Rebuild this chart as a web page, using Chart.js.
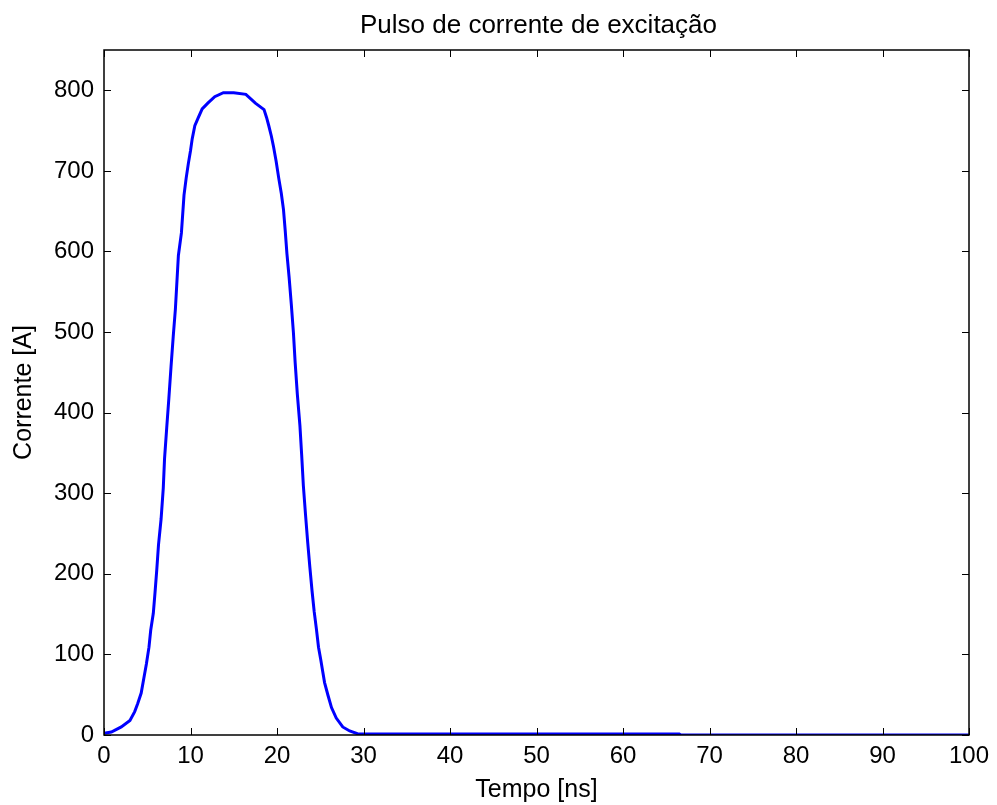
<!DOCTYPE html>
<html>
<head>
<meta charset="utf-8">
<script src="https://cdn.jsdelivr.net/npm/chart.js@4"></script>
<style>
html,body{margin:0;padding:0;background:#fff;}
#wrap{width:997px;height:805px;}
</style>
</head>
<body>
<div id="wrap"><canvas id="c" width="997" height="805"></canvas></div>
<script>
const chartTitle = "Pulso de corrente de excitação";
const xTitle = "Tempo [ns]";
const yTitle = "Corrente [A]";
const xTicks = [0,10,20,30,40,50,60,70,80,90,100];
const yTicks = [0,100,200,300,400,500,600,700,800];
const timeNs = [0,0.85,2.0,3.0,3.55,3.9,4.3,4.6,4.9,5.2,5.4,5.7,5.9,6.1,6.3,6.6,6.85,7.0,7.25,7.5,7.75,8.0,8.25,8.6,8.95,9.25,9.5,9.75,10.0,10.2,10.5,10.9,11.35,12.0,12.8,13.8,15.0,16.4,17.5,18.5,18.8,19.05,19.35,19.6,19.9,20.2,20.5,20.75,20.95,21.15,21.4,21.65,21.9,22.1,22.35,22.65,22.85,23.05,23.3,23.55,23.8,24.05,24.3,24.55,24.8,25.05,25.3,25.5,25.9,26.3,26.85,27.6,28.4,29.3,30.1,66.5,66.7,100];
const currentA = [2,3.6,10,18,29,39,52,70,88,109,130,151,177,205,236,268,306,343,381,418,457,494,528,595,623,670,691,709,725,740,756,766,777,784,792,797,797,795,784,776,766,756,743,730,712,691,672,652,626,597,568,535,499,462,423,384,348,309,273,239,208,179,153,132,109,94,78,65,49,34,21,10,5,1.6,1.3,1.3,0,0];

const points = timeNs.map((t,i)=>({x:t,y:currentA[i]}));
const FONT = "'Liberation Sans', Arial, sans-serif";

const boxPlugin = {
  id:'boxPlugin',
  afterDraw(chart){
    const {ctx, chartArea:a, scales:{x,y}} = chart;
    ctx.save();
    ctx.strokeStyle = '#000';
    ctx.lineWidth = 1;
    const L=7;
    ctx.beginPath();
    xTicks.forEach(v=>{
      const px = Math.round(x.getPixelForValue(v))+0.5;
      ctx.moveTo(px,a.bottom); ctx.lineTo(px,a.bottom-L);
      ctx.moveTo(px,a.top); ctx.lineTo(px,a.top+L);
    });
    yTicks.forEach(v=>{
      const py = Math.round(y.getPixelForValue(v))+0.5;
      ctx.moveTo(a.left,py); ctx.lineTo(a.left+L,py);
      ctx.moveTo(a.right,py); ctx.lineTo(a.right-L,py);
    });
    ctx.stroke();
    ctx.lineWidth = 1.5;
    ctx.strokeRect(a.left, a.top, a.right-a.left, a.bottom-a.top);
    ctx.fillStyle='#000';
    ctx.font = "26px " + FONT;
    ctx.textAlign='center';
    ctx.textBaseline='alphabetic';
    ctx.fillText(chartTitle, (a.left+a.right)/2 + 2, 33);
    ctx.restore();
  }
};

new Chart(document.getElementById('c'), {
  type:'line',
  data:{datasets:[{
    data:points,
    borderColor:'#0000ff',
    borderWidth:3,
    pointRadius:0,
    tension:0,
    fill:false
  }]},
  options:{
    responsive:false,
    animation:false,
    layout:{padding:{left:0,right:28,top:50,bottom:0}},
    plugins:{legend:{display:false},tooltip:{enabled:false},title:{display:false}},
    scales:{
      x:{
        type:'linear', min:0, max:100,
        afterBuildTicks(s){ s.ticks = xTicks.map(v=>({value:v})); },
        afterFit(s){ s.height = 70; },
        grid:{display:true, drawOnChartArea:false, drawTicks:false, color:'rgba(0,0,0,0)'},
        border:{display:false},
        ticks:{color:'#000', font:{family:FONT,size:24}, padding:7, maxRotation:0},
        title:{display:true, text:xTitle, color:'#000', font:{family:FONT,size:25}, padding:{top:0,bottom:0}}
      },
      y:{
        type:'linear', min:0, max:850,
        afterBuildTicks(s){ s.ticks = yTicks.map(v=>({value:v})); },
        afterFit(s){ s.width = 104; },
        grid:{display:true, drawOnChartArea:false, drawTicks:false, color:'rgba(0,0,0,0)'},
        border:{display:false},
        ticks:{color:'#000', font:{family:FONT,size:24}, padding:10},
        title:{display:true, text:yTitle, color:'#000', font:{family:FONT,size:25}, padding:{top:9,bottom:0}}
      }
    }
  },
  plugins:[boxPlugin]
});
</script>
</body>
</html>
